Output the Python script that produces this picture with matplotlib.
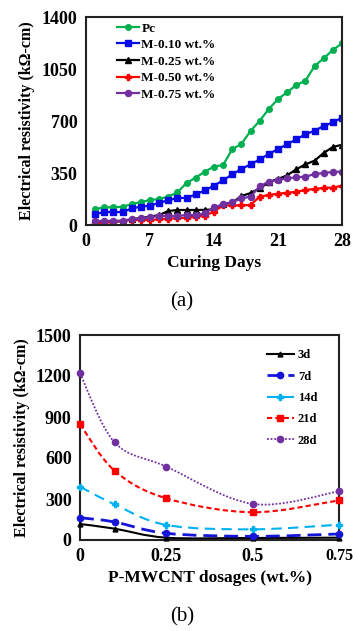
import matplotlib
matplotlib.use("Agg")
import matplotlib.pyplot as plt
from matplotlib.path import Path
from matplotlib.patches import PathPatch
from matplotlib.lines import Line2D

plt.rcParams["font.family"] = ["Liberation Serif", "DejaVu Serif"]
plt.rcParams["font.weight"] = "bold"

# (a) resistivity vs curing days
days = list(range(1, 29))
pc = [106, 119, 119, 123, 141, 155, 168, 175, 191, 220, 283, 319, 359, 393,
      404, 511, 545, 633, 702, 781, 848, 893, 942, 971, 1070, 1122, 1178, 1223]
m010 = [74, 87, 87, 87, 112, 123, 130, 150, 166, 182, 182, 206, 233, 265,
        301, 341, 377, 408, 442, 478, 511, 543, 577, 610, 635, 666, 691, 722]
m025 = [16, 16, 22, 25, 38, 47, 56, 67, 94, 101, 101, 101, 102, 105,
        143, 150, 195, 215, 247, 289, 310, 334, 375, 408, 433, 485, 525, 540]
m050 = [16, 16, 22, 29, 34, 34, 34, 38, 43, 45, 49, 56, 63, 90,
        132, 132, 132, 135, 191, 202, 211, 217, 224, 236, 242, 251, 251, 265]
m075 = [27, 27, 29, 29, 40, 45, 52, 61, 61, 61, 67, 67, 79, 119,
        139, 153, 179, 191, 260, 292, 303, 314, 321, 325, 343, 350, 357, 359]

# (b) resistivity vs dosage
dosage = [0, 0.1, 0.25, 0.5, 0.75]
d3 = [117, 83, 17, 15, 17]
d7 = [163, 132, 49, 27, 44]
d14 = [390, 261, 110, 78, 112]
d21 = [847, 507, 305, 203, 290]
d28 = [1220, 715, 537, 264, 356]


def smooth_path(x, y):
    # Excel-style smoothed line as cubic Bezier segments
    pts = list(zip(x, y))
    verts = [pts[0]]
    codes = [Path.MOVETO]
    n = len(pts)
    for i in range(n - 1):
        p0 = pts[i - 1] if i > 0 else pts[i]
        p1 = pts[i]
        p2 = pts[i + 1]
        p3 = pts[i + 2] if i + 2 < n else pts[i + 1]
        c1 = (p1[0] + (p2[0] - p0[0]) / 6, p1[1] + (p2[1] - p0[1]) / 6)
        c2 = (p2[0] - (p3[0] - p1[0]) / 6, p2[1] - (p3[1] - p1[1]) / 6)
        verts += [c1, c2, p2]
        codes += [Path.CURVE4] * 3
    return Path(verts, codes)


fig = plt.figure(figsize=(3.53, 6.31), dpi=100)
W, H = 353, 631


def add_axes_px(left, top, right, bottom):
    return fig.add_axes([left / W, 1 - bottom / H, (right - left) / W, (bottom - top) / H])


# ---- panel (a)
ax1 = add_axes_px(86, 17, 342, 225)
series_a = [
    ("Pc", pc, "#00B050", "o", 4.0),
    ("M-0.10 wt.%", m010, "#0A0AE6", "s", 4.4),
    ("M-0.25 wt.%", m025, "black", "^", 4.4),
    ("M-0.50 wt.%", m050, "#FF0000", "P", 4.2),
    ("M-0.75 wt.%", m075, "#7030A0", "o", 4.4),
]
for label, vals, col, mk, ms in series_a:
    ax1.plot(days, vals, color=col, marker=mk, markersize=ms, lw=1.6, label=label)
ax1.set_xlim(0, 28)
ax1.set_ylim(0, 1400)
ax1.set_xticks([0, 7, 14, 21, 28])
ax1.set_yticks([0, 350, 700, 1050, 1400])
ax1.set_xlabel("Curing Days", fontsize=12.5, fontweight="bold", labelpad=3)
ax1.set_ylabel("Electrical resistivity (k\u03a9-cm)", fontsize=11.5, fontweight="bold", labelpad=5)
ax1.legend(loc="upper left", bbox_to_anchor=(0.1, 1.0), frameon=False,
           prop=dict(size=9.5, weight="bold"), handlelength=1.7,
           handletextpad=0.15, labelspacing=0.33, borderaxespad=0)

# ---- panel (b)
ax2 = add_axes_px(80, 335, 339, 540)
series_b = [
    ("3d", d3, "black", "^", 3.5, "-", 1.5),
    ("7d", d7, "#1515D8", "o", 4.5, (0, (5, 2.5)), 2.0),
    ("14d", d14, "#00B0F0", "P", 3.8, (0, (5, 3)), 1.5),
    ("21d", d21, "#FF0000", "s", 4.5, (0, (2.5, 1.5)), 1.5),
    ("28d", d28, "#7030A0", "o", 4.5, (0, (1, 1)), 1.3),
]
handles = []
for label, vals, col, mk, ms, ls, lw in series_b:
    ax2.add_patch(PathPatch(smooth_path(dosage, vals), fill=False, edgecolor=col,
                            lw=lw, linestyle=ls, zorder=2))
    ax2.plot(dosage, vals, linestyle="none", marker=mk, markersize=ms, color=col, zorder=3,
             clip_on=False)
    handles.append(Line2D([], [], color=col, lw=lw, linestyle=ls, marker=mk, markersize=ms,
                          label=label))
ax2.set_xlim(0, 0.75)
ax2.set_ylim(0, 1500)
ax2.set_xticks([0, 0.25, 0.5, 0.75])
ax2.set_xticklabels(["0", "0.25", "0.5", "0.75"])
ax2.set_yticks([0, 300, 600, 900, 1200, 1500])
ax2.set_xlabel("P-MWCNT dosages (wt.%)", fontsize=12.5, fontweight="bold", labelpad=3)
ax2.set_ylabel("Electrical resistivity (k\u03a9-cm)", fontsize=11.5, fontweight="bold", labelpad=4)
ax2.legend(handles=handles, loc="upper right", bbox_to_anchor=(0.935, 0.955), frameon=False,
           prop=dict(size=9, weight="bold"), handlelength=2.2, handletextpad=0.3,
           labelspacing=0.75, borderaxespad=0)

for ax in (ax1, ax2):
    for sp in ax.spines.values():
        sp.set_linewidth(1.5)
        sp.set_color("#222222")
    ax.tick_params(length=0, pad=6)
    for t in ax.get_xticklabels() + ax.get_yticklabels():
        t.set_fontsize(13)
        t.set_fontweight("bold")

# last dosage label sits against the right edge; keep it inside the figure
ax2.get_xticklabels()[-1].set_fontsize(11.5)

fig.text(182 / W, 1 - 302 / H, "(a)", ha="center", va="center", fontsize=15, fontweight="normal")
fig.text(182 / W, 1 - 617 / H, "(b)", ha="center", va="center", fontsize=15, fontweight="normal")

fig.savefig("out.png", dpi=100)
